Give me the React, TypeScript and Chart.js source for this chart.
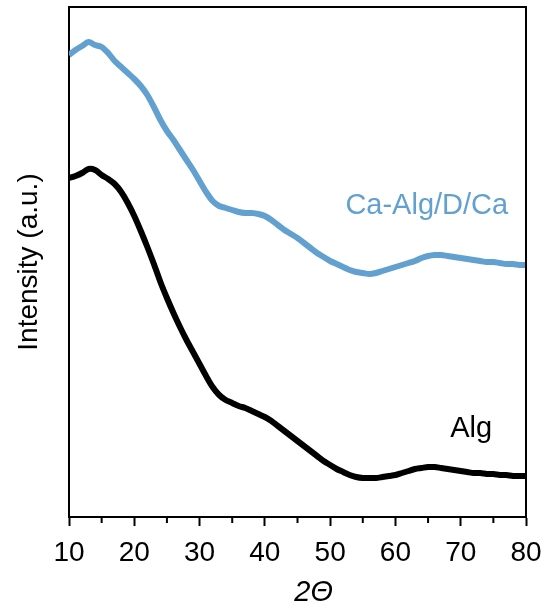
import React, { useEffect, useRef } from "react";
import { Chart, registerables } from "chart.js";

Chart.register(...registerables);

// 2θ positions (degrees)
const THETA = [
  10, 11, 12, 13, 14, 15, 16, 17, 18, 19,
  20, 21, 22, 23, 24, 25, 26, 27, 28, 29,
  30, 31, 32, 33, 34, 35, 36, 37, 38, 39,
  40, 41, 42, 43, 44, 45, 46, 47, 48, 49,
  50, 51, 52, 53, 54, 55, 56, 57, 58, 59,
  60, 61, 62, 63, 64, 65, 66, 67, 68, 69,
  70, 71, 72, 73, 74, 75, 76, 77, 78, 79, 80,
];

// Ca-Alg/D/Ca intensity (a.u., offset)
const CA_ALG = [
  462, 467, 471, 475, 472, 470, 464, 456, 450, 444,
  438, 431, 422, 410, 397, 386, 377, 367, 357, 347,
  336, 325, 316, 311, 309, 307, 305, 304, 304, 303,
  301, 297, 292, 287, 283, 279, 274, 269, 264, 260,
  256, 253, 250, 247, 245, 244, 243, 244, 246, 248,
  250, 252, 254, 256, 259, 261, 262, 262, 261, 260,
  259, 258, 257, 256, 255, 255, 254, 253, 253, 252, 252,
];

// Alg intensity (a.u.)
const ALG = [
  339, 341, 344, 348, 347, 342, 338, 333, 325, 314,
  301, 286, 270, 253, 235, 219, 204, 190, 177, 165,
  153, 141, 130, 122, 117, 114, 111, 109, 106, 103,
  100, 96, 91, 86, 81, 76, 71, 66, 61, 56,
  52, 48, 45, 42, 40, 39, 39, 39, 40, 41,
  42, 44, 46, 48, 49, 50, 50, 49, 48, 47,
  46, 45, 44, 44, 43, 43, 42, 42, 41, 41, 41,
];

const SERIES_NAMES = ["Ca-Alg/D/Ca", "Alg"];
const SERIES_COLORS = ["#62a0cf", "#000000"];
// label anchor (2θ, intensity) for series names
const LABEL_X = [64.8, 71.6];
const LABEL_Y = [303, 80];

const X_MIN = 10;
const X_MAX = 80;
const X_MINOR = [15, 25, 35, 45, 55, 65, 75];
const Y_MIN = 0;
const Y_MAX = 510;

const FONT = "'Liberation Sans', Arial, Helvetica, sans-serif";

export default function App() {
  const ref = useRef<HTMLCanvasElement | null>(null);

  useEffect(() => {
    if (!ref.current) return;

    const framePlugin = {
      id: "frameAndLabels",
      afterDraw(chart: any) {
        const { ctx, chartArea, scales } = chart;
        const xs = scales.x;
        const ys = scales.y;
        ctx.save();
        // top/right frame
        ctx.strokeStyle = "#000";
        ctx.lineWidth = 2;
        ctx.beginPath();
        ctx.moveTo(chartArea.left, chartArea.top);
        ctx.lineTo(chartArea.right, chartArea.top);
        ctx.lineTo(chartArea.right, chartArea.bottom);
        ctx.stroke();
        // minor ticks
        ctx.beginPath();
        for (const v of X_MINOR) {
          const px = xs.getPixelForValue(v);
          ctx.moveTo(px, chartArea.bottom);
          ctx.lineTo(px, chartArea.bottom + 6);
        }
        ctx.stroke();
        // series labels
        ctx.font = `29px ${FONT}`;
        ctx.textAlign = "center";
        ctx.textBaseline = "alphabetic";
        for (let i = 0; i < SERIES_NAMES.length; i++) {
          ctx.fillStyle = SERIES_COLORS[i];
          ctx.fillText(
            SERIES_NAMES[i],
            xs.getPixelForValue(LABEL_X[i]),
            ys.getPixelForValue(LABEL_Y[i])
          );
        }
        ctx.restore();
      },
    };

    const chart = new Chart(ref.current, {
      type: "line",
      data: {
        datasets: [
          {
            label: SERIES_NAMES[0],
            data: THETA.map((t, i) => ({ x: t, y: CA_ALG[i] })),
            borderColor: SERIES_COLORS[0],
            borderWidth: 6,
            pointRadius: 0,
            tension: 0.3,
            fill: false,
          },
          {
            label: SERIES_NAMES[1],
            data: THETA.map((t, i) => ({ x: t, y: ALG[i] })),
            borderColor: SERIES_COLORS[1],
            borderWidth: 6,
            pointRadius: 0,
            tension: 0.3,
            fill: false,
          },
        ],
      },
      options: {
        responsive: false,
        animation: false,
        layout: { padding: { top: 7, right: 21, bottom: 0, left: 0 } },
        plugins: {
          legend: { display: false },
          tooltip: { enabled: false },
        },
        scales: {
          x: {
            type: "linear",
            min: X_MIN,
            max: X_MAX,
            afterFit: (s: any) => {
              s.height = 94;
              s.paddingRight = 0;
              s.paddingLeft = 0;
            },
            ticks: {
              stepSize: 10,
              color: "#000",
              padding: 10,
              font: { family: FONT, size: 28 },
            },
            grid: {
              drawOnChartArea: false,
              tickLength: 9,
              tickWidth: 2,
              tickColor: "#000",
            },
            border: { display: true, color: "#000", width: 2 },
            title: {
              display: true,
              text: "    2Θ",
              color: "#000",
              font: { family: FONT, size: 29, style: "italic" },
              padding: { top: 0, bottom: 1 },
            },
          },
          y: {
            type: "linear",
            min: Y_MIN,
            max: Y_MAX,
            afterFit: (s: any) => {
              s.width = 69;
            },
            ticks: { display: false },
            grid: { display: false },
            border: { display: true, color: "#000", width: 2 },
            title: {
              display: true,
              text: "Intensity (a.u.)",
              color: "#000",
              font: { family: FONT, size: 28 },
              padding: { top: 12, bottom: 0 },
            },
          },
        },
      },
      plugins: [framePlugin],
    });

    return () => chart.destroy();
  }, []);

  return (
    <canvas
      ref={ref}
      width={547}
      height={611}
      style={{ position: "fixed", left: 0, top: 0, display: "block" }}
    />
  );
}
